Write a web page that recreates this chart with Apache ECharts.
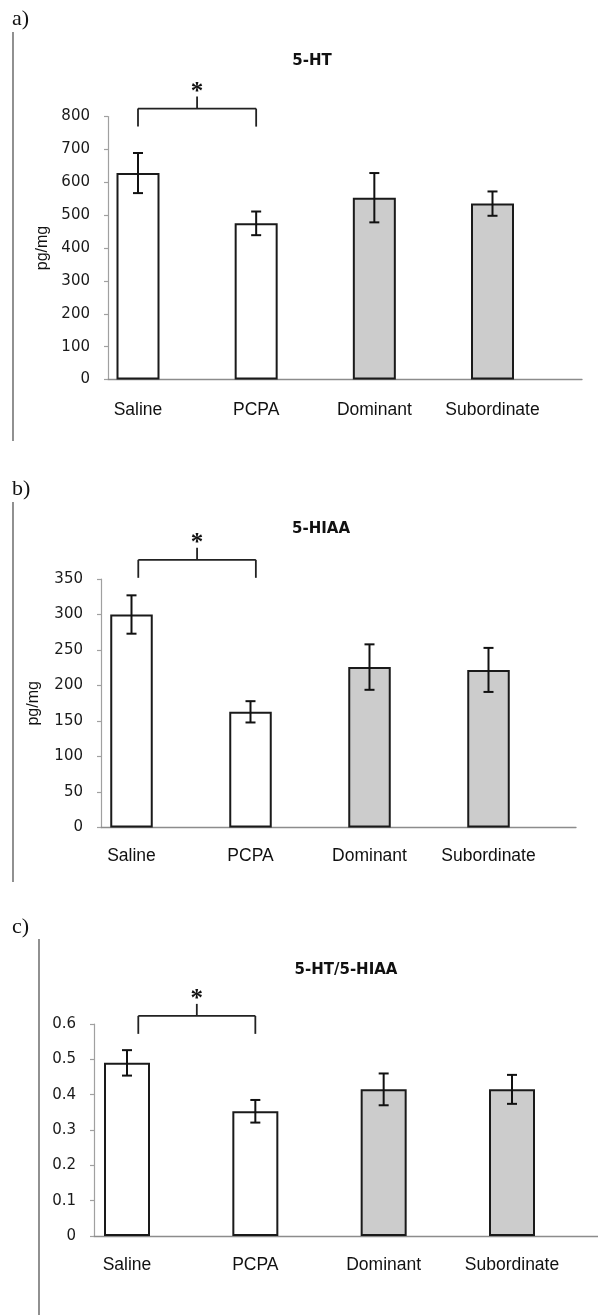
<!DOCTYPE html>
<html>
<head>
<meta charset="utf-8">
<script src="https://cdn.jsdelivr.net/npm/echarts@6/dist/echarts.min.js"></script>
<style>html,body{margin:0;padding:0;background:#fff;}#c{width:598px;height:1315px;}</style>
</head>
<body>
<div id="c"></div>
<script>
// ---- data ----
const categories = ['Saline', 'PCPA', 'Dominant', 'Subordinate'];
const htValues = [628, 475, 553, 535];
const htErrors = [61, 36, 75, 37];
const hiaaValues = [300, 163, 226, 222];
const hiaaErrors = [27, 15, 32, 31];
const ratioValues = [0.49, 0.353, 0.415, 0.415];
const ratioErrors = [0.036, 0.032, 0.045, 0.041];
const panelTitles = ['5-HT', '5-HIAA', '5-HT/5-HIAA'];
const panelLetters = ['a)', 'b)', 'c)'];
const yAxisNames = ['pg/mg', 'pg/mg', ''];
const yMax = [800, 350, 0.6];
const yStep = [100, 50, 0.1];
const bracketLevels = [824, 377, 0.623];
const bracketSpans = [[0, 1], [0.057, 1.045], [0.088, 1.0]];
const groupColors = ['#ffffff', '#ffffff', '#cccccc', '#cccccc'];

const seriesValues = [htValues, hiaaValues, ratioValues];
const seriesErrors = [htErrors, hiaaErrors, ratioErrors];

// ---- layout (styles/positions) ----
const layout = [
  {axLeft:108, axW:474, top:116.5, h:263, barLeft:138, barW:354.5, bw:43, labMargin:22, nameGap:56,
   titleX:312, titleY:61, letterY:19, frameX:13, frameTop:32, frameBottom:441},
  {axLeft:101, axW:475, top:579, h:248.6, barLeft:131.5, barW:357, bw:42.5, labMargin:20, nameGap:59,
   titleX:321, titleY:529, letterY:489, frameX:13, frameTop:502, frameBottom:882},
  {axLeft:94, axW:504, top:1024, h:212, barLeft:127, barW:385, bw:46, labMargin:20.5, nameGap:56,
   titleX:346, titleY:970, letterY:927, frameX:39, frameTop:939, frameBottom:1315}
];

const grid = [], xAxis = [], yAxis = [], series = [], graphic = [];
const AX_COLOR = '#8c8c8c';

layout.forEach((L, p) => {
  const gAx = 2 * p, gBar = 2 * p + 1;
  grid.push({left: L.axLeft, top: L.top, width: L.axW, height: L.h, containLabel: false});
  grid.push({left: L.barLeft, top: L.top, width: L.barW, height: L.h, containLabel: false});

  xAxis.push({gridIndex: gAx, type: 'value', min: 0, max: 1,
    axisLine: {show: true, onZero: false, lineStyle: {color: AX_COLOR, width: 1.3}},
    axisTick: {show: false}, axisLabel: {show: false}, splitLine: {show: false}});
  xAxis.push({gridIndex: gBar, type: 'category', data: categories, boundaryGap: false,
    axisLine: {show: false}, axisTick: {show: false}, splitLine: {show: false},
    axisLabel: {show: true, interval: 0, margin: L.labMargin, color: '#111',
      fontFamily: 'Liberation Sans', fontSize: 17.5}});

  yAxis.push({gridIndex: gAx, type: 'value', min: 0, max: yMax[p], interval: yStep[p],
    name: yAxisNames[p], nameLocation: 'middle', nameRotate: 90, nameGap: L.nameGap,
    nameTextStyle: {fontFamily: 'Liberation Sans', fontSize: 16, color: '#111'},
    axisLine: {show: true, lineStyle: {color: '#a0a0a0', width: 1.2}},
    axisTick: {show: true, length: 4, lineStyle: {color: '#a0a0a0', width: 1.2}},
    axisLabel: {margin: 18, color: '#1a1a1a', fontFamily: 'DejaVu Sans', fontSize: 15},
    splitLine: {show: false}});
  yAxis.push({gridIndex: gBar, type: 'value', min: 0, max: yMax[p], interval: yStep[p], show: false,
    splitLine: {show: false}});

  const vals = seriesValues[p], errs = seriesErrors[p];
  series.push({type: 'bar', xAxisIndex: gBar, yAxisIndex: gBar, barWidth: L.bw,
    data: vals.map((v, i) => ({value: v, itemStyle: {color: groupColors[i], borderColor: '#1a1a1a', borderWidth: 2}})),
    z: 2, animation: false});
  series.push({type: 'custom', xAxisIndex: gBar, yAxisIndex: gBar, z: 5, animation: false,
    data: vals.map((v, i) => [i, v, errs[i]]),
    renderItem: function (params, api) {
      const i = api.value(0), v = api.value(1), e = api.value(2);
      const a = api.coord([i, v + e]), b = api.coord([i, v - e]);
      const cap = 5;
      const st = {stroke: '#111', lineWidth: 2};
      return {type: 'group', children: [
        {type: 'line', shape: {x1: a[0], y1: a[1], x2: b[0], y2: b[1]}, style: st},
        {type: 'line', shape: {x1: a[0] - cap, y1: a[1], x2: a[0] + cap, y2: a[1]}, style: st},
        {type: 'line', shape: {x1: b[0] - cap, y1: b[1], x2: b[0] + cap, y2: b[1]}, style: st}
      ]};
    }});
  const span = bracketSpans[p];
  series.push({type: 'custom', xAxisIndex: gBar, yAxisIndex: gBar, z: 5, animation: false, clip: false,
    data: [[0, 1, bracketLevels[p]]],
    renderItem: function (params, api) {
      const lvl = api.value(2);
      const p0 = api.coord([api.value(0), lvl]), p1 = api.coord([api.value(1), lvl]);
      const xL = p0[0] + span[0] * (p1[0] - p0[0]);
      const xR = p0[0] + span[1] * (p1[0] - p0[0]);
      const y = p0[1], mid = (xL + xR) / 2;
      const st = {stroke: '#222', lineWidth: 1.8};
      return {type: 'group', children: [
        {type: 'line', shape: {x1: xL, y1: y, x2: xR, y2: y}, style: st},
        {type: 'line', shape: {x1: xL, y1: y, x2: xL, y2: y + 18}, style: st},
        {type: 'line', shape: {x1: xR, y1: y, x2: xR, y2: y + 18}, style: st},
        {type: 'line', shape: {x1: mid, y1: y, x2: mid, y2: y - 12}, style: st},
        {type: 'text', style: {text: '*', x: mid, y: y - 12 - 10.5 + 6, align: 'center', verticalAlign: 'middle',
          font: 'bold 25px "Liberation Serif"', fill: '#111'}}
      ]};
    }});

  graphic.push({type: 'text', x: L.titleX, y: L.titleY,
    style: {text: panelTitles[p], font: 'bold 15px "DejaVu Sans"', fill: '#111', align: 'center', verticalAlign: 'middle'}});
  graphic.push({type: 'text', x: 12, y: L.letterY,
    style: {text: panelLetters[p], font: '22px "Liberation Serif"', fill: '#111', align: 'left', verticalAlign: 'middle'}});
  graphic.push({type: 'line', shape: {x1: L.frameX, y1: L.frameTop, x2: L.frameX, y2: L.frameBottom},
    style: {stroke: '#555', lineWidth: 1.3}});
});

const chart = echarts.init(document.getElementById('c'), null, {renderer: 'canvas'});
chart.setOption({animation: false, backgroundColor: '#ffffff', grid, xAxis, yAxis, series, graphic});
</script>
</body>
</html>
